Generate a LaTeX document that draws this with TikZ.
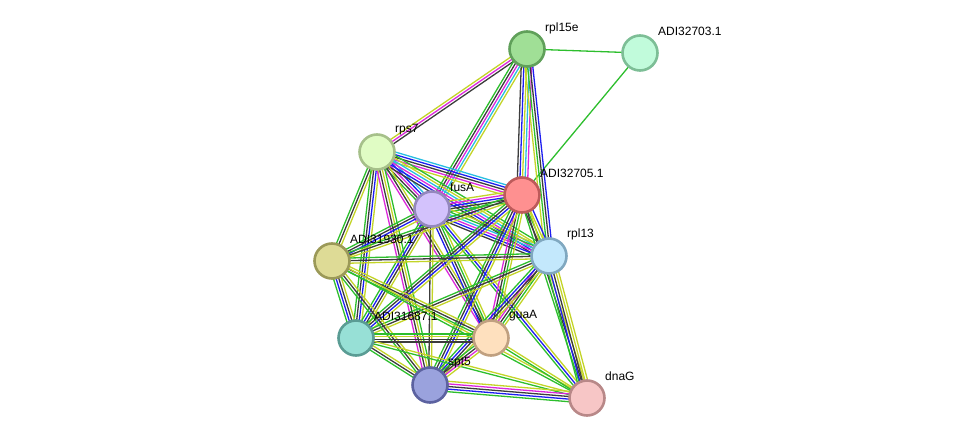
\documentclass[tikz,border=0pt]{standalone}
\usepackage{fontspec}
\setmainfont{Liberation Sans}
\usetikzlibrary{calc}
\pgfdeclarelayer{bg}
\pgfsetlayers{bg,main}
\definecolor{eg}{RGB}{45,190,45}
\definecolor{eb}{RGB}{30,30,240}
\definecolor{ek}{RGB}{60,60,60}
\definecolor{em}{RGB}{220,40,220}
\definecolor{ec}{RGB}{40,190,225}
\definecolor{ey}{RGB}{195,212,40}
\tikzset{
  prot/.style={circle, minimum size=35pt, line width=2.6pt, inner sep=0pt},
  lab/.style={anchor=west, font=\fontsize{12}{14}\selectfont, inner sep=0pt, text=black},
  ed/.style={line width=1.3pt}
}
\newcommand\stredge[3]{%
  \gdef\sn{0}%
  \foreach \c in {#3}{\pgfmathtruncatemacro\st{\sn+1}\global\let\sn\st}%
  \foreach \c [count=\i] in {#3}{%
    \pgfmathsetmacro\so{(\i-(\sn+1)/2)*2.6}%
    \draw[ed, \c] ($(#1.center)!\so pt!90:(#2.center)$) -- ($(#2.center)!\so pt!-90:(#1.center)$);
  }}
\begin{document}
\begin{tikzpicture}[x=1pt,y=-1pt]
\useasboundingbox (0,0) rectangle (976,443);
% nodes
\node[prot, fill={rgb,255:red,160;green,223;blue,150}, draw={rgb,255:red,96;green,160;blue,90}] (rpl15e) at (527,49) {};
\node[prot, fill={rgb,255:red,193;green,251;blue,219}, draw={rgb,255:red,125;green,190;blue,150}] (adi03) at (640,53) {};
\node[prot, fill={rgb,255:red,224;green,252;blue,196}, draw={rgb,255:red,166;green,192;blue,138}] (rps7) at (377,152) {};
\node[prot, fill={rgb,255:red,254;green,144;blue,144}, draw={rgb,255:red,189;green,90;blue,90}] (adi05) at (522,195) {};
\node[prot, fill={rgb,255:red,211;green,194;blue,252}, draw={rgb,255:red,148;green,136;blue,189}] (fusA) at (432,209) {};
\node[prot, fill={rgb,255:red,195;green,232;blue,252}, draw={rgb,255:red,128;green,168;blue,192}] (rpl13) at (549,256) {};
\node[prot, fill={rgb,255:red,222;green,219;blue,150}, draw={rgb,255:red,155;green,153;blue,88}] (adi30) at (332,261) {};
\node[prot, fill={rgb,255:red,151;green,224;blue,214}, draw={rgb,255:red,90;green,156;blue,148}] (adi87) at (356,338) {};
\node[prot, fill={rgb,255:red,254;green,224;blue,190}, draw={rgb,255:red,192;green,160;blue,128}] (guaA) at (491,338) {};
\node[prot, fill={rgb,255:red,154;green,162;blue,221}, draw={rgb,255:red,92;green,98;blue,160}] (spt5) at (430,385) {};
\node[prot, fill={rgb,255:red,247;green,198;blue,198}, draw={rgb,255:red,184;green,136;blue,136}] (dnaG) at (587,398) {};
% labels
\node[lab] (l1) at (545,28) {rpl15e};
\node[lab] (l2) at (658,31) {ADI32703.1};
\node[lab] (l3) at (395,130) {rps7};
\node[lab] (l4) at (540,173) {ADI32705.1};
\node[lab] (l5) at (450,187) {fusA};
\node[lab] (l6) at (567,234) {rpl13};
\node[lab] (l7) at (350,239) {ADI31930.1};
\node[lab] (l8) at (374,316) {ADI31687.1};
\node[lab] (l9) at (509,316) {guaA};
\node[lab] (l10) at (448,363) {spt5};
\node[lab] (l11) at (605,376) {dnaG};
% edges
\begin{pgfonlayer}{bg}
\stredge{rpl15e}{adi03}{eg}
\stredge{adi03}{adi05}{eg}
\stredge{rpl15e}{rps7}{ey,em,ek}
\stredge{rpl15e}{fusA}{eg,ek,em,ec,ey}
\stredge{rpl15e}{adi05}{ek,eb,ey,ec,em}
\stredge{rpl15e}{rpl13}{ey,eg,ek,eb}
\stredge{rps7}{adi05}{ey,em,ek,eb,ec}
\stredge{rps7}{fusA}{eg,ek,em,eb,ec}
\stredge{rps7}{rpl13}{ek,eb,em,ec,ey,eg}
\stredge{rps7}{adi30}{eg,ek,ey}
\stredge{rps7}{adi87}{eg,ek,eb,ey}
\stredge{rps7}{guaA}{em,ek,ey}
\stredge{rps7}{spt5}{em,ek,ey,eg}
\stredge{fusA}{adi05}{eg,ek,eb,em,ey}
\stredge{fusA}{rpl13}{ek,eb,em,ec,eg,ey}
\stredge{fusA}{adi30}{eg,ek,eb,ey}
\stredge{fusA}{adi87}{eg,eb,ek,ey}
\stredge{fusA}{guaA}{eb,ek,eg,ey}
\stredge{fusA}{spt5}{ek,ey}
\stredge{fusA}{dnaG}{eg,eb,ey}
\stredge{adi05}{rpl13}{ek,eg,ey,eb}
\stredge{adi05}{adi30}{eg,ek,ey}
\stredge{adi05}{adi87}{eg,ek,eb,ey}
\stredge{adi05}{guaA}{em,ek,eg,ey}
\stredge{adi05}{spt5}{eg,ek,eb,ey}
\stredge{adi05}{dnaG}{eg,ek,ey}
\stredge{rpl13}{adi30}{eg,ek,ey}
\stredge{rpl13}{adi87}{eg,ek,ey}
\stredge{rpl13}{guaA}{em,ek,eg,ey}
\stredge{rpl13}{spt5}{eg,eb,ek,ey}
\stredge{rpl13}{dnaG}{eg,eb,ek,ey,ey}
\stredge{adi30}{adi87}{eg,eb,ek,ey}
\stredge{adi30}{guaA}{eg,ek,ey}
\stredge{adi30}{spt5}{eg,ek,ey}
\stredge{adi30}{dnaG}{eg,ey}
\stredge{adi87}{guaA}{ek,ek,ey,eg}
\stredge{adi87}{spt5}{eg,ek,ey}
\stredge{adi87}{dnaG}{eg,ey}
\stredge{guaA}{spt5}{eg,ek,em,ey}
\stredge{guaA}{dnaG}{eg,ey}
\stredge{spt5}{dnaG}{eg,eb,ek,em,ey}
\end{pgfonlayer}
\end{tikzpicture}
\end{document}
